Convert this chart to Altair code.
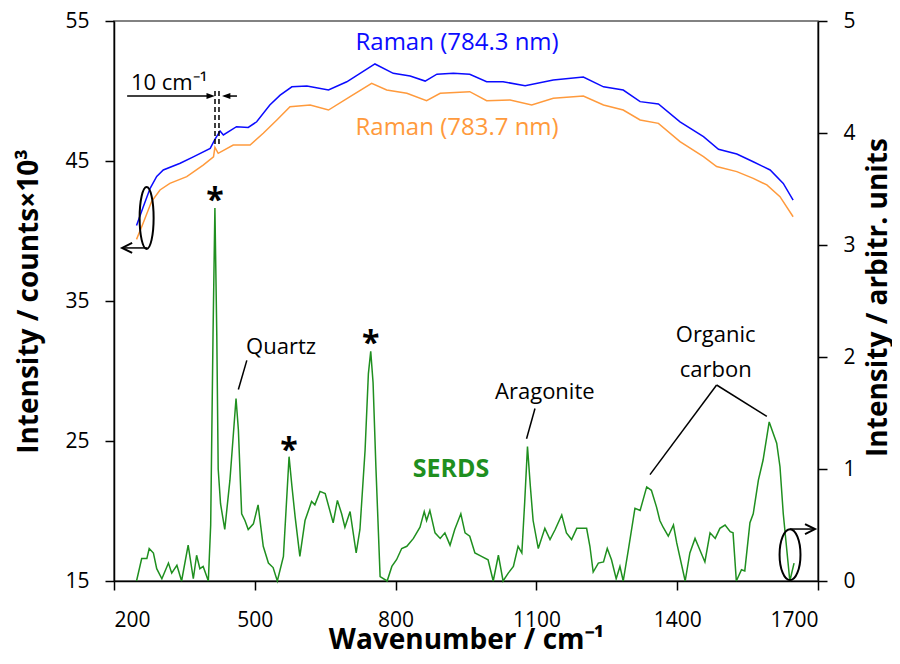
import altair as alt
import pandas as pd

# ---------------- data ----------------
serds_wn = [248, 259, 270, 275, 284, 291, 302, 316, 323, 334, 344, 358, 369, 376, 383, 390, 401, 406, 411, 415,
            419, 422, 427, 436, 447, 460, 465, 472, 479, 486, 497, 507, 518, 529, 539, 548, 561, 573, 579, 586,
            596, 607, 621, 628, 639, 650, 667, 676, 685, 692, 703, 716, 724, 735, 742, 747, 752, 758, 767, 782,
            792, 802, 813, 824, 838, 852, 861, 866, 873, 884, 895, 905, 916, 926, 939, 948, 958, 969, 983, 997,
            1008, 1019, 1029, 1040, 1051, 1061, 1069, 1075, 1081, 1087, 1093, 1104, 1118, 1129, 1140, 1154, 1164,
            1175, 1186, 1207, 1214, 1221, 1232, 1243, 1251, 1260, 1270, 1278, 1285, 1296, 1310, 1321, 1335, 1345,
            1356, 1363, 1370, 1381, 1392, 1399, 1417, 1427, 1438, 1445, 1459, 1470, 1481, 1491, 1502, 1513, 1519,
            1526, 1537, 1544, 1555, 1562, 1573, 1583, 1596, 1612, 1619, 1626, 1640, 1649]
serds_val = [0.00, 0.20, 0.20, 0.29, 0.25, 0.11, 0.02, 0.16, 0.07, 0.14, 0.00, 0.32, 0.02, 0.23, 0.11, 0.13, 0.00,
             0.50, 2.20, 3.33, 2.20, 1.00, 0.69, 0.46, 0.90, 1.63, 1.35, 0.60, 0.54, 0.46, 0.51, 0.68, 0.31, 0.16,
             0.12, 0.00, 0.22, 1.11, 0.85, 0.57, 0.22, 0.54, 0.71, 0.68, 0.80, 0.78, 0.52, 0.72, 0.60, 0.48, 0.62,
             0.25, 0.46, 1.17, 1.85, 2.05, 1.77, 1.02, 0.04, 0.00, 0.13, 0.19, 0.29, 0.31, 0.38, 0.48, 0.62, 0.54,
             0.63, 0.43, 0.38, 0.43, 0.32, 0.46, 0.60, 0.43, 0.40, 0.25, 0.22, 0.19, 0.00, 0.23, 0.00, 0.07, 0.13,
             0.31, 0.25, 0.70, 1.20, 0.85, 0.54, 0.29, 0.47, 0.37, 0.46, 0.59, 0.43, 0.37, 0.47, 0.47, 0.31, 0.08,
             0.16, 0.17, 0.29, 0.19, 0.02, 0.13, 0.00, 0.28, 0.65, 0.63, 0.84, 0.81, 0.66, 0.54, 0.48, 0.40, 0.50,
             0.34, 0.00, 0.25, 0.38, 0.31, 0.17, 0.43, 0.38, 0.47, 0.50, 0.44, 0.43, 0.00, 0.10, 0.09, 0.52, 0.60,
             0.90, 1.08, 1.42, 1.23, 1.02, 0.60, 0.00, 0.16]

raman_blue_wn = [248, 262, 277, 291, 305, 341, 369, 405, 415, 426, 433, 461, 486, 504, 532, 554, 579, 611, 657, 696,
                 756, 795, 831, 863, 888, 923, 958, 994, 1029, 1076, 1136, 1200, 1243, 1285, 1321, 1360, 1406,
                 1456, 1488, 1527, 1562, 1598, 1626, 1647]
raman_blue_val = [40.4, 41.7, 43.05, 43.9, 44.36, 44.84, 45.3, 45.9, 46.55, 47.14, 46.86, 47.45, 47.4, 47.8, 49.0,
                  49.7, 50.3, 50.36, 50.07, 50.66, 51.93, 51.26, 51.07, 50.71, 51.2, 51.26, 51.2, 50.66, 50.66,
                  50.38, 50.79, 51.0, 50.3, 50.07, 49.24, 49.07, 47.8, 46.74, 45.84, 45.5, 44.95, 44.36, 43.4, 42.2]

raman_orange_wn = [248, 262, 280, 298, 319, 355, 390, 412, 415, 422, 454, 490, 518, 547, 575, 618, 657, 703, 749,
                   781, 824, 866, 895, 958, 994, 1044, 1090, 1136, 1200, 1243, 1285, 1321, 1360, 1406, 1456, 1484,
                   1527, 1562, 1591, 1619, 1647]
raman_orange_val = [39.4, 40.55, 42.1, 42.93, 43.4, 43.88, 44.7, 45.3, 45.98, 45.55, 46.14, 46.14, 46.98, 47.93,
                    48.88, 49.0, 48.64, 49.6, 50.55, 50.07, 49.84, 49.31, 49.84, 49.95, 49.31, 49.36, 49.0, 49.48,
                    49.64, 49.0, 48.64, 47.93, 47.69, 46.38, 45.31, 44.6, 44.24, 43.76, 43.29, 42.45, 41.02]

x_ticks = [200, 500, 800, 1100, 1400, 1700]
left_ticks = [15, 25, 35, 45, 55]
right_ticks = [0, 1, 2, 3, 4, 5]

raman_labels = ["Raman (784.3 nm)", "Raman (783.7 nm)"]
raman_label_x = [931, 931]
raman_label_y = [52.93, 46.86]

peak_labels = ["Quartz", "Aragonite", "Organic", "carbon"]
peak_label_x = [556, 1118, 1482, 1482]
peak_label_y = [2.03, 1.625, 2.13, 1.82]

star_x = [415, 573, 747]
star_y = [3.30, 1.07, 2.03]

# leader lines (x, y, x2, y2) on the SERDS scale
lead_x = [483, 1097, 1484, 1484]
lead_y = [1.97, 1.54, 1.75, 1.75]
lead_x2 = [465, 1079, 1342, 1591]
lead_y2 = [1.71, 1.27, 0.95, 1.47]

# ---------------- style ----------------
FONT = "Open Sans"
BLUE = "#0b0bff"
ORANGE = "#ff9a3c"
GREEN = "#1f8f1f"

xs = alt.Scale(domain=[200, 1700], nice=False, zero=False)
ys_left = alt.Scale(domain=[15, 55], nice=False, zero=False)
ys_right = alt.Scale(domain=[0, 5], nice=False, zero=False)

common = dict(tickSize=9, tickWidth=1.5, domainWidth=1.5, domainColor="black", tickColor="black",
              labelColor="black", labelFont=FONT, labelFontSize=21, titleFont=FONT, titleFontSize=28,
              titleFontWeight="bold", titleColor="black", grid=False, format="d")

x_axis = alt.Axis(values=x_ticks, orient="bottom", title="Wavenumber / cm⁻¹", labelPadding=19, titleY=67,
                  titleBaseline="alphabetic", **common)
left_axis = alt.Axis(values=left_ticks, orient="left", title="Intensity / counts×10³", labelPadding=16,
                     titleX=-77, titleAngle=270, titleBaseline="alphabetic", **common)
right_axis = alt.Axis(values=right_ticks, orient="right", title="Intensity / arbitr. units", labelPadding=16,
                      titleX=68, titleY=276, titleAngle=270, titleBaseline="alphabetic", **common)


def X():
    return alt.X("x:Q", scale=xs, axis=x_axis)


def YL():
    return alt.Y("y:Q", scale=ys_left, axis=left_axis)


def YR():
    return alt.Y("y:Q", scale=ys_right, axis=right_axis)


# ---------------- left (Raman) group ----------------
blue = alt.Chart(pd.DataFrame({"x": raman_blue_wn, "y": raman_blue_val})).mark_line(
    color=BLUE, strokeWidth=1.5).encode(x=X(), y=YL())
orange = alt.Chart(pd.DataFrame({"x": raman_orange_wn, "y": raman_orange_val})).mark_line(
    color=ORANGE, strokeWidth=1.5).encode(x=X(), y=YL())

raman_txt = alt.Chart(pd.DataFrame({"x": raman_label_x, "y": raman_label_y, "t": raman_labels,
                                    "c": [BLUE, ORANGE]})).mark_text(
    font=FONT, fontSize=24, align="center", baseline="alphabetic").encode(
    x=X(), y=YL(), text="t:N", color=alt.Color("c:N", scale=None))

cm_txt = alt.Chart(pd.DataFrame({"x": [236], "y": [50.07], "t": ["10 cm⁻¹"]})).mark_text(
    font=FONT, fontSize=22, align="left", baseline="alphabetic", color="black").encode(
    x=X(), y=YL(), text="t:N")

# horizontal arrow shafts
shafts = alt.Chart(pd.DataFrame({"x": [228, 462, 271], "x2": [408, 436, 222],
                                 "y": [49.64, 49.64, 38.79]})).mark_rule(
    color="black", strokeWidth=1.5).encode(x=X(), x2="x2:Q", y=YL())
dashes = alt.Chart(pd.DataFrame({"x": [415.2, 423.7], "y": [50.0, 50.0], "y2": [46.0, 46.0]})).mark_rule(
    color="black", strokeWidth=1.5, strokeDash=[5, 3]).encode(x=X(), y=YL(), y2="y2:Q")
heads = alt.Chart(pd.DataFrame({"x": [406, 439], "y": [49.64, 49.64],
                                "s": ["M-1,-0.7L1,0L-1,0.7Z", "M1,-0.7L-1,0L1,0.7Z"]})).mark_point(
    filled=True, color="black", size=70, opacity=1).encode(
    x=X(), y=YL(), shape=alt.Shape("s:N", scale=None))
left_ellipse = alt.Chart(pd.DataFrame({"x": [269.5], "y": [40.93]})).mark_point(
    shape="M0,-1A0.226,1 0 1,1 0,1A0.226,1 0 1,1 0,-1Z", size=3844, filled=False,
    color="black", strokeWidth=2, opacity=1).encode(x=X(), y=YL())
left_chev = alt.Chart(pd.DataFrame({"x": [228], "y": [38.79]})).mark_point(
    shape="M1,-1L-1,0L1,1", size=100, filled=False, color="black", strokeWidth=2, opacity=1).encode(
    x=X(), y=YL())

left_group = alt.layer(blue, orange, raman_txt, cm_txt, shafts, dashes, heads, left_ellipse, left_chev)

# ---------------- right (SERDS) group ----------------
green = alt.Chart(pd.DataFrame({"x": serds_wn, "y": serds_val})).mark_line(
    color=GREEN, strokeWidth=1.5).encode(x=X(), y=YR())
peak_txt = alt.Chart(pd.DataFrame({"x": peak_label_x, "y": peak_label_y, "t": peak_labels})).mark_text(
    font=FONT, fontSize=22, align="center", baseline="alphabetic", color="black").encode(
    x=X(), y=YR(), text="t:N")
serds_txt = alt.Chart(pd.DataFrame({"x": [918], "y": [0.93], "t": ["SERDS"]})).mark_text(
    font=FONT, fontSize=25, fontWeight="bold", align="center", baseline="alphabetic", color=GREEN).encode(
    x=X(), y=YR(), text="t:N")
stars = alt.Chart(pd.DataFrame({"x": star_x, "y": star_y, "t": ["*"] * 3})).mark_text(
    font=FONT, fontSize=32, fontWeight="bold", align="center", baseline="alphabetic", color="black").encode(
    x=X(), y=YR(), text="t:N")
leaders = alt.Chart(pd.DataFrame({"x": lead_x, "y": lead_y, "x2": lead_x2, "y2": lead_y2})).mark_rule(
    color="black", strokeWidth=1.5).encode(x=X(), y=YR(), x2="x2:Q", y2="y2:Q")
right_ellipse = alt.Chart(pd.DataFrame({"x": [1640.4], "y": [0.235]})).mark_point(
    shape="M0,-1A0.41,1 0 1,1 0,1A0.41,1 0 1,1 0,-1Z", size=2601, filled=False,
    color="black", strokeWidth=2, opacity=1).encode(x=X(), y=YR())
right_shaft = alt.Chart(pd.DataFrame({"x": [1640.4], "x2": [1693], "y": [0.464]})).mark_rule(
    color="black", strokeWidth=1.5).encode(x=X(), x2="x2:Q", y=YR())
right_chev = alt.Chart(pd.DataFrame({"x": [1683], "y": [0.464]})).mark_point(
    shape="M-1,-1L1,0L-1,1", size=100, filled=False, color="black", strokeWidth=2, opacity=1).encode(
    x=X(), y=YR())

right_group = alt.layer(green, peak_txt, serds_txt, stars, leaders, right_ellipse, right_shaft, right_chev)

chart = alt.layer(left_group, right_group).resolve_scale(y="independent").properties(
    width=704, height=560,
    padding={"left": 106, "top": 13, "right": 74, "bottom": 71},
    autosize=alt.AutoSizeParams(type="none"),
).configure_view(stroke="#595959", strokeWidth=1.5)

chart.save("out.html", embed_options={"renderer": "svg", "actions": False})
